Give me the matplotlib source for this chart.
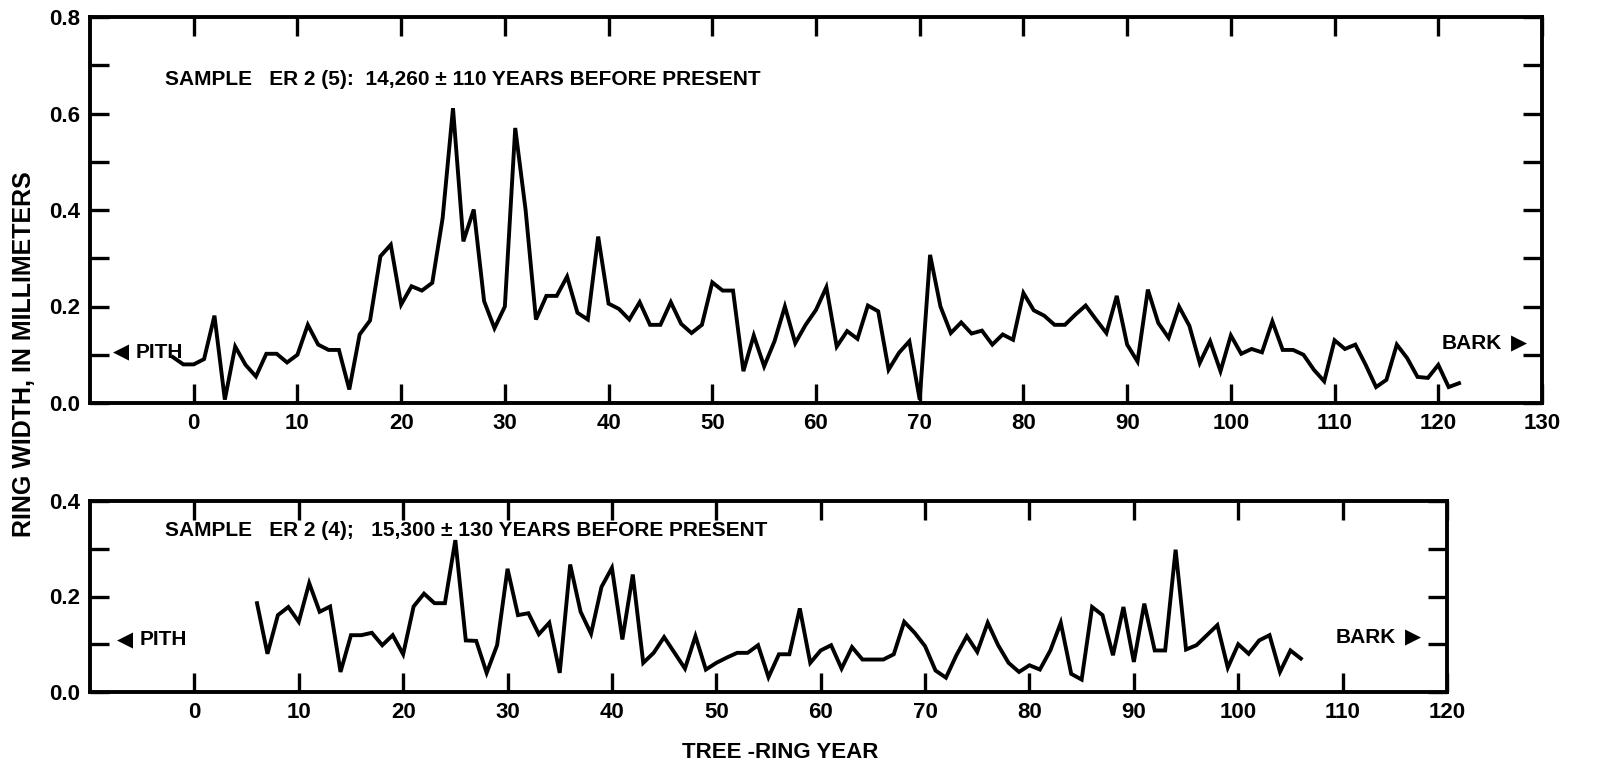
import matplotlib
matplotlib.use("Agg")
import matplotlib.pyplot as plt
import numpy as np

# ---- data ----
top_years = list(range(-2, 123))
top_width = [0.095, 0.08, 0.08, 0.091, 0.181, 0.007, 0.117, 0.079, 0.055, 0.102,
             0.102, 0.084, 0.10, 0.162, 0.121, 0.11, 0.11, 0.028, 0.142, 0.171,
             0.304, 0.328, 0.204, 0.242, 0.233, 0.249, 0.383, 0.611, 0.335, 0.401,
             0.211, 0.155, 0.20, 0.57, 0.40, 0.173, 0.222, 0.222, 0.262, 0.187,
             0.173, 0.345, 0.206, 0.195, 0.173, 0.209, 0.162, 0.162, 0.209, 0.164,
             0.145, 0.162, 0.25, 0.233, 0.233, 0.066, 0.14, 0.076, 0.128, 0.20,
             0.124, 0.162, 0.193, 0.24, 0.117, 0.149, 0.133, 0.202, 0.19, 0.069,
             0.104, 0.128, 0.007, 0.307, 0.20, 0.145, 0.167, 0.144, 0.15, 0.121,
             0.142, 0.131, 0.228, 0.192, 0.181, 0.162, 0.162, 0.183, 0.202, 0.173,
             0.145, 0.222, 0.121, 0.086, 0.235, 0.166, 0.135, 0.20, 0.16, 0.083,
             0.128, 0.066, 0.14, 0.102, 0.112, 0.105, 0.169, 0.11, 0.11, 0.10,
             0.069, 0.045, 0.13, 0.112, 0.121, 0.079, 0.033, 0.048, 0.121, 0.093,
             0.054, 0.052, 0.079, 0.033, 0.041]

bot_years = list(range(6, 107))
bot_width = [0.186, 0.080, 0.161, 0.178, 0.147, 0.228, 0.168, 0.179, 0.042, 0.119,
             0.119, 0.124, 0.098, 0.119, 0.079, 0.179, 0.206, 0.186, 0.186, 0.318,
             0.108, 0.107, 0.040, 0.098, 0.258, 0.161, 0.165, 0.121, 0.145, 0.040,
             0.267, 0.168, 0.122, 0.22, 0.26, 0.11, 0.246, 0.061, 0.082, 0.115,
             0.082, 0.049, 0.117, 0.047, 0.061, 0.072, 0.082, 0.082, 0.098, 0.031,
             0.079, 0.079, 0.175, 0.061, 0.087, 0.098, 0.049, 0.094, 0.068, 0.068,
             0.068, 0.079, 0.147, 0.124, 0.096, 0.045, 0.030, 0.077, 0.117, 0.084,
             0.145, 0.098, 0.061, 0.042, 0.056, 0.047, 0.087, 0.145, 0.038, 0.026,
             0.178, 0.161, 0.077, 0.178, 0.063, 0.185, 0.087, 0.087, 0.298, 0.089,
             0.098, 0.119, 0.140, 0.051, 0.10, 0.080, 0.108, 0.119, 0.042, 0.087,
             0.070]

top_xticks = list(range(0, 131, 10))
bot_xticks = list(range(0, 121, 10))
top_yticks = [0.0, 0.2, 0.4, 0.6, 0.8]
top_yticklabels = ["0.0", "0.2", "0.4", "0.6", "0.8"]
bot_yticks = [0.0, 0.2, 0.4]
bot_yticklabels = ["0.0", "0.2", "0.4"]

top_title = "SAMPLE   ER 2 (5):  14,260 \u00b1 110 YEARS BEFORE PRESENT"
bot_title = "SAMPLE   ER 2 (4);   15,300 \u00b1 130 YEARS BEFORE PRESENT"

FAM = ["Liberation Sans", "DejaVu Sans"]
plt.rcParams["font.family"] = FAM
plt.rcParams["font.weight"] = "bold"

fig = plt.figure(figsize=(16.08, 7.65), dpi=100)
ax1 = fig.add_axes([90/1608, 1-403/765, 1452/1608, 386/765])
ax2 = fig.add_axes([90/1608, 1-692/765, 1357/1608, 191/765])

LW = 2.8
TICKFS = 16
for ax in (ax1, ax2):
    for s in ax.spines.values():
        s.set_linewidth(2.8)
    ax.tick_params(axis="both", which="both", direction="in", top=True, right=True,
                   length=14, width=2.4, labelsize=TICKFS, pad=7)

ax1.plot(top_years, top_width, color="black", lw=LW, solid_joinstyle="miter")
ax1.set_xlim(-10, 130)
ax1.set_ylim(0, 0.8)
ax1.set_xticks(top_xticks)
ax1.set_xticklabels([str(t) for t in top_xticks], fontweight="bold", fontsize=TICKFS)
ax1.set_yticks(top_yticks)
ax1.set_yticklabels(top_yticklabels, fontweight="bold", fontsize=TICKFS)
ax1.set_yticks(np.arange(0.1, 0.8, 0.2), minor=True)

ax2.plot(bot_years, bot_width, color="black", lw=LW, solid_joinstyle="miter")
ax2.set_xlim(-10, 120)
ax2.set_ylim(0, 0.4)
ax2.set_xticks(bot_xticks)
ax2.set_xticklabels([str(t) for t in bot_xticks], fontweight="bold", fontsize=TICKFS)
ax2.set_yticks(bot_yticks)
ax2.set_yticklabels(bot_yticklabels, fontweight="bold", fontsize=TICKFS)
ax2.set_yticks([0.1, 0.3], minor=True)

TXTFS = 15
ax1.text(-2.8, 0.671, top_title, fontsize=TXTFS, fontweight="bold", va="center", ha="left")
ax2.text(-2.8, 0.339, bot_title, fontsize=TXTFS, fontweight="bold", va="center", ha="left")

ARR = ["DejaVu Sans"]
ax1.text(-7.8, 0.104, "\u25c0", fontsize=TXTFS, family=ARR, va="center", ha="left")
ax1.text(-5.6, 0.104, "PITH", fontsize=TXTFS, fontweight="bold", va="center", ha="left")
ax1.text(120.3, 0.124, "BARK", fontsize=TXTFS, fontweight="bold", va="center", ha="left")
ax1.text(127.0, 0.124, "\u25b6", fontsize=TXTFS, family=ARR, va="center", ha="left")
ax2.text(-7.4, 0.109, "\u25c0", fontsize=TXTFS, family=ARR, va="center", ha="left")
ax2.text(-5.2, 0.109, "PITH", fontsize=TXTFS, fontweight="bold", va="center", ha="left")
ax2.text(109.3, 0.115, "BARK", fontsize=TXTFS, fontweight="bold", va="center", ha="left")
ax2.text(116.0, 0.115, "\u25b6", fontsize=TXTFS, family=ARR, va="center", ha="left")

fig.text(780/1608, 1-753/765, "TREE -RING YEAR", fontsize=16, fontweight="bold",
         ha="center", va="center")
fig.text(24/1608, 1-354/765, "RING WIDTH, IN MILLIMETERS", fontsize=18, fontweight="bold",
         ha="center", va="center", rotation=90)

fig.savefig("out.png", dpi=100, facecolor="white")
